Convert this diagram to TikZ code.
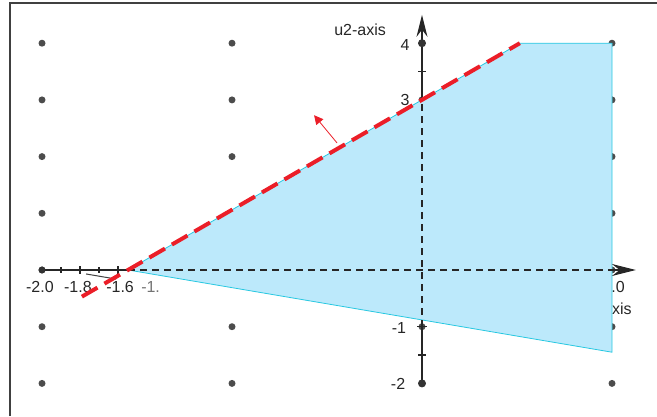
\documentclass[tikz,border=0pt]{standalone}
\usepackage{fontspec}
\setsansfont{Liberation Sans}
\usetikzlibrary{arrows.meta}

\definecolor{regionblue}{RGB}{188,233,251}
\definecolor{edgecyan}{RGB}{40,200,225}
\definecolor{boundred}{RGB}{235,30,40}

\begin{document}
\begin{tikzpicture}[
  x=190pt, y=56.7pt,
  font=\sffamily\fontsize{16}{18}\selectfont,
  griddot/.style={fill=black!70},
  ticklabel/.style={text=black!85, inner sep=0pt},
  axisline/.style={draw=black!85, line width=1.2pt},
  axisdash/.style={draw=black!85, line width=1.2pt, dash pattern=on 7pt off 5pt},
  region/.style={fill=regionblue, draw=edgecyan, line width=0.8pt},
  bound/.style={draw=boundred, line width=4pt, dash pattern=on 18pt off 8pt},
  normalvec/.style={draw=boundred, line width=0.8pt, -{Triangle[length=9pt,width=9pt]}}
]
\useasboundingbox (-2.2211,-2.5750) rectangle (1.2368,4.7619);

% --- frame of the view ---
\draw[black!75, line width=1.5pt] (-2.168,-2.575) -- (-2.168,4.709) -- (1.2368,4.709);

% --- grid points ---
\foreach \u in {-2,-1,0,1}
  \foreach \v in {-2,...,4}
    \fill[griddot] (\u,\v) circle[radius=3.5pt];

% labels partly hidden under the region
\node[ticklabel, anchor=east] (onelbl) at (1.068,-0.30) {1.0};
\node[ticklabel, anchor=east] (uonelbl) at (1.105,-0.68) {u1-axis};

% --- feasible region ---
\filldraw[region] (-1.547,0) -- (0.515,4) -- (1,4) -- (1,-1.45) -- cycle;

% --- u1 axis ---
\draw[axisline] (-2,0) -- (-1.547,0);
\draw[axisdash] (-1.547,0) -- (1,0);
\draw[axisline, -{Stealth[length=24pt,width=12pt]}] (1,0) -- (1.126,0);
\fill[black!80] (-2,0) circle[radius=3.5pt];
\draw[axisline] (-1.9,-0.045) -- (-1.9,0.045);
\draw[axisline] (-1.8,-0.07) -- (-1.8,0.07);
\draw[axisline] (-1.7,-0.045) -- (-1.7,0.045);
\draw[axisline] (-1.6,-0.07) -- (-1.6,0.07);
\draw[black!75, line width=1pt] (-1.768,-0.07) -- (-1.61,-0.16);

\node[ticklabel] (lbla) at (-2.011,-0.30) {-2.0};
\node[ticklabel] (lblb) at (-1.811,-0.30) {-1.8};
\node[ticklabel] (lblc) at (-1.589,-0.30) {-1.6};
\begin{scope}
  \clip (-1.49,-0.60) rectangle (-1.389,0);
  \node[ticklabel, text=black!55] (lbld) at (-1.405,-0.30) {-1.4};
\end{scope}

% --- u2 axis ---
\draw[axisline, -{Stealth[length=22pt,width=11pt]}] (0,4) -- (0,4.5);
\draw[axisline] (0,3) -- (0,4);
\draw[axisdash] (0,-1) -- (0,3);
\draw[axisline] (0,-2) -- (0,-1);
\fill[black!80] (0,4) circle[radius=4pt];
\fill[black!80] (0,-2) circle[radius=4pt];
\draw[axisline] (-0.02,3.5) -- (0.02,3.5);
\draw[axisline] (-0.02,-1.5) -- (0.02,-1.5);
\draw[axisline] (-0.025,-1) -- (0.025,-1);

\node[ticklabel] (utwolbl) at (-0.326,4.233) {u2-axis};
\node[ticklabel] (lblfour) at (-0.089,3.968) {4};
\node[ticklabel] (lblthree) at (-0.089,3.0) {3};
\node[ticklabel] (lblmone) at (-0.121,-1.02) {-1};
\node[ticklabel] (lblmtwo) at (-0.126,-2.01) {-2};

% --- boundary line and its normal ---
\draw[bound] (-1.79,-0.47) -- (0.515,4);
\draw[normalvec] (-0.447,2.24) -- (-0.568,2.73);

\end{tikzpicture}
\end{document}
